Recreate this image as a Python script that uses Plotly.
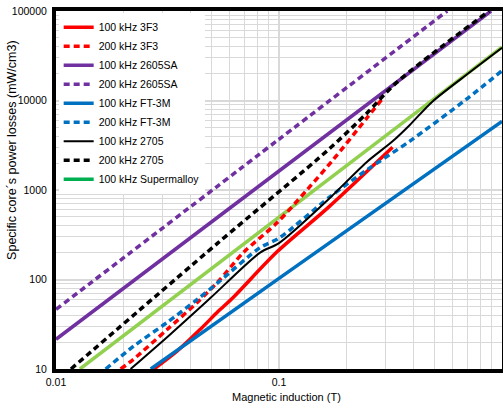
import plotly.graph_objects as go

# ---- data (B in tesla, P in mW/cm3) ----
b_3f3_100 = [0.0275, 0.035, 0.0444, 0.0534, 0.0623, 0.098, 0.1655, 0.323]
p_3f3_100 = [10, 15.9, 27.8, 44.1, 63.1, 204, 631, 3000]

b_3f3_200 = [0.0195, 0.0223, 0.0316, 0.043, 0.0534, 0.0691, 0.098, 0.1334, 0.1742, 0.247, 0.291]
p_3f3_200 = [10, 12.9, 27.8, 55.5, 95.1, 199, 430, 1000, 2154, 6310, 10500]

b_2605_100 = [0.01, 0.1, 0.893]
p_2605_100 = [21.5, 1630, 100000]

b_2605_200 = [0.01, 0.1, 0.568]
p_2605_200 = [46.4, 3690, 100000]

b_ft3m_100 = [0.0266, 0.1, 1.0]
p_ft3m_100 = [10, 103, 5840]

b_ft3m_200 = [0.0167, 0.0223, 0.0316, 0.043, 0.0534, 0.0823, 0.1, 0.169, 0.247, 0.385, 0.69, 1.0]
p_ft3m_200 = [10, 18.0, 33.3, 59.9, 92.8, 227, 290, 836, 1668, 3500, 10260, 21500]

b_2705_100 = [0.0216, 0.0326, 0.0492, 0.0823, 0.1, 0.1655, 0.247, 0.323, 0.385, 0.487, 0.712, 1.0]
p_2705_100 = [10, 24.5, 62, 200, 255, 774, 2047, 3500, 5300, 9700, 20400, 38800]

b_2705_200 = [0.01167, 0.0534, 0.1655, 0.247, 0.3364, 0.875]
p_2705_200 = [10, 258, 2783, 7170, 15850, 100000]

b_super_100 = [0.0128, 0.1, 1.0]
p_super_100 = [10, 497, 39500]

x_tickvals = [0.01, 0.1, 1]
x_ticktext = ["0.01", "0.1", "1"]
y_tickvals = [10, 100, 1000, 10000, 100000]
y_ticktext = ["10", "100", "1000", "10000", "100000"]

FONT = "Liberation Sans, Arial, sans-serif"
RED, PURPLE, BLUE, BLACK = "#ff0000", "#7030a0", "#0070c0", "#000000"
GREEN_LINE, GREEN_LEG = "#92d050", "#00b050"
DASH = "6px,4px"

fig = go.Figure()

fig.add_trace(go.Scatter(x=b_super_100, y=p_super_100, mode="lines", showlegend=False,
                         line=dict(color=GREEN_LINE, width=3.5)))

series = [
    ("100 kHz 3F3", b_3f3_100, p_3f3_100, RED, "solid", 3.5),
    ("200 kHz 3F3", b_3f3_200, p_3f3_200, RED, DASH, 3.5),
    ("100 kHz 2605SA", b_2605_100, p_2605_100, PURPLE, "solid", 3.5),
    ("200 kHz 2605SA", b_2605_200, p_2605_200, PURPLE, DASH, 3.5),
    ("100 kHz FT-3M", b_ft3m_100, p_ft3m_100, BLUE, "solid", 3.5),
    ("200 kHz FT-3M", b_ft3m_200, p_ft3m_200, BLUE, DASH, 3.5),
    ("100 kHz 2705", b_2705_100, p_2705_100, BLACK, "solid", 2),
    ("200 kHz 2705", b_2705_200, p_2705_200, BLACK, DASH, 3.5),
]
for name, bx, py, col, dash, w in series:
    fig.add_trace(go.Scatter(x=bx, y=py, mode="lines", name=name,
                             line=dict(color=col, width=w, dash=dash, shape="spline", smoothing=0.8)))

fig.add_trace(go.Scatter(x=[None], y=[None], mode="lines", name="100 kHz Supermalloy",
                         line=dict(color=GREEN_LEG, width=3.5)))

minor_x = [k * 10.0 ** e for e in (-2, -1) for k in range(2, 10)]
minor_y = [k * 10.0 ** e for e in (1, 2, 3, 4) for k in range(2, 10)]

axis_common = dict(type="log", showline=True, linecolor="black", linewidth=4, mirror=True,
                   showgrid=True, gridcolor="#d9d9d9", gridwidth=2, zeroline=False,
                   automargin=False,
                   tickfont=dict(family=FONT, size=10.5, color="black"))

fig.update_layout(
    width=503, height=409,
    margin=dict(l=56, r=1, t=11, b=40, autoexpand=False),
    paper_bgcolor="white", plot_bgcolor="white",
    font=dict(family=FONT, size=10.5, color="black"),
    xaxis=dict(range=[-2, 0], tickmode="array", tickvals=x_tickvals, ticktext=x_ticktext,
               ticks="",
               minor=dict(tickmode="array", tickvals=minor_x, showgrid=True, gridcolor="#d9d9d9", gridwidth=1, ticks=""),
               **axis_common),
    yaxis=dict(range=[1, 5], tickmode="array", tickvals=y_tickvals, ticktext=y_ticktext,
               ticks="outside", ticklen=3, tickcolor="rgba(0,0,0,0)",
               minor=dict(tickmode="array", tickvals=minor_y, showgrid=True, gridcolor="#d9d9d9", gridwidth=1, ticks=""),
               **axis_common),
    legend=dict(x=0.006, y=0.995, xanchor="left", yanchor="top", bgcolor="white", borderwidth=0,
                font=dict(family=FONT, size=10.5, color="black"), tracegroupgap=0),
    annotations=[
        dict(text="Specific core´s power losses (mW/cm3)", textangle=-90,
             xref="paper", yref="paper", x=-0.0987, y=0.612,
             xanchor="center", yanchor="middle", showarrow=False,
             font=dict(family=FONT, size=12.5, color="black")),
        dict(text="Magnetic induction (T)",
             xref="paper", yref="paper", x=0.517, y=-0.078,
             xanchor="center", yanchor="middle", showarrow=False,
             font=dict(family=FONT, size=11, color="black")),
    ],
)

fig.write_html("out.html", config={"displayModeBar": False},
               post_script="document.body.style.margin='0';document.body.style.overflow='hidden';")
